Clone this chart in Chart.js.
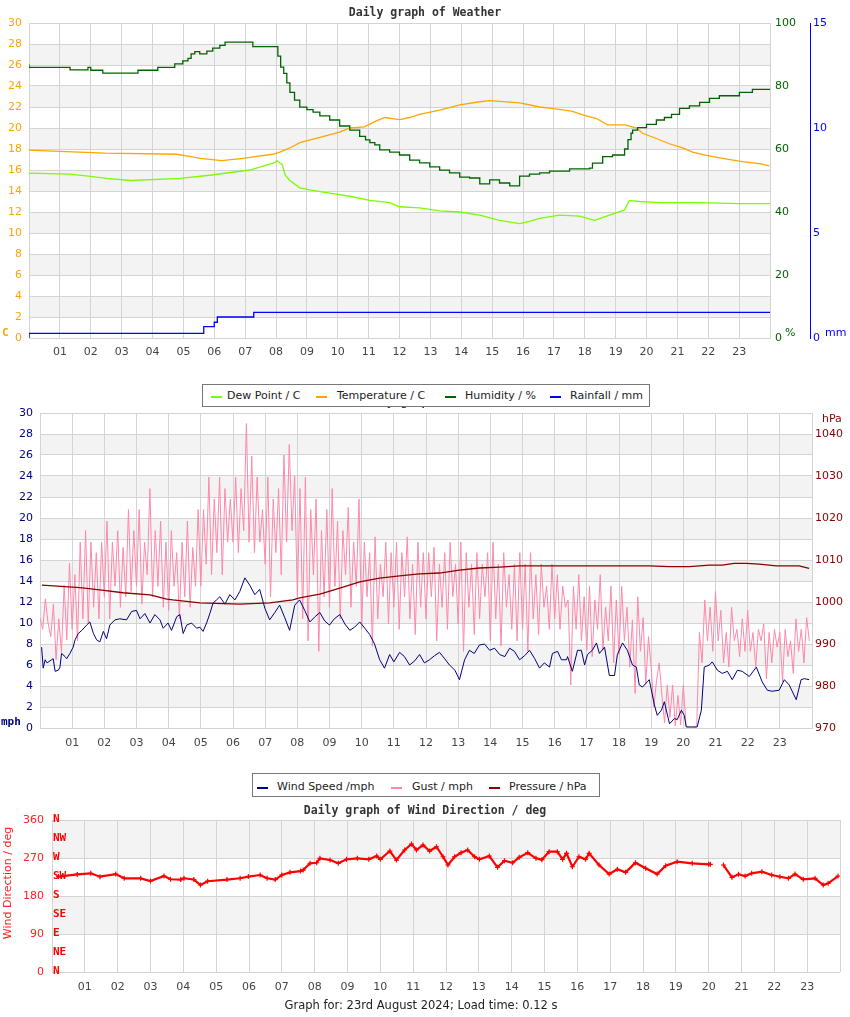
<!DOCTYPE html>
<html>
<head>
<meta charset="utf-8">
<script src="https://cdn.jsdelivr.net/npm/chart.js@4.4.1/dist/chart.umd.min.js"></script>
<style>
  body { margin: 0; background: #fff; width: 850px; height: 1017px; position: relative; overflow: hidden; font-family: "DejaVu Sans", sans-serif; }
  canvas { position: absolute; left: 0; }
  .t { position: absolute; white-space: nowrap; line-height: 12px; font-size: 11px; }
  .title { position: absolute; left: 0; width: 850px; text-align: center; font: bold 11.5px "DejaVu Sans Mono", monospace; color: #333; line-height: 12px; }
  .box { position: absolute; border: 1px solid #777; background: #fff; box-sizing: border-box; }
  .mk { position: absolute; height: 2px; width: 11px; }
  .unit { position: absolute; font: bold 11px "DejaVu Sans Mono", monospace; line-height: 12px; }
</style>
</head>
<body>
<canvas id="weatherChart" width="850" height="372" style="top:0"></canvas>
<canvas id="windChart" width="850" height="364" style="top:396px"></canvas>
<canvas id="dirChart" width="850" height="200" style="top:800px"></canvas>

<div class="title" style="top:6px">Daily graph of Weather</div>
<div class="unit" style="left:2px;top:327px;color:#FFA500">C</div>
<div class="t" style="left:785px;top:327px;color:#006400">%</div>
<div class="t" style="left:825px;top:327px;color:#0000FF">mm</div>

<div class="title" style="top:395px">Daily graph of Wind</div>
<div class="box" style="left:202px;top:384px;width:448px;height:23px"></div>
<div class="mk" style="left:211px;top:396px;background:#7CFC00"></div>
<div class="t" style="left:227px;top:390px;color:#222">Dew Point / C</div>
<div class="mk" style="left:316px;top:396px;background:#FFA500"></div>
<div class="t" style="left:337px;top:390px;color:#222">Temperature / C</div>
<div class="mk" style="left:445px;top:396px;background:#006400"></div>
<div class="t" style="left:465px;top:390px;color:#222">Humidity / %</div>
<div class="mk" style="left:550px;top:396px;background:#0000FF"></div>
<div class="t" style="left:570px;top:390px;color:#222">Rainfall / mm</div>

<div class="unit" style="left:1px;top:716px;color:#000080">mph</div>
<div class="t" style="left:822px;top:413px;color:#8B0000">hPa</div>

<div class="box" style="left:252px;top:773px;width:348px;height:24px"></div>
<div class="mk" style="left:257px;top:787px;background:#000080"></div>
<div class="t" style="left:277px;top:781px;color:#222">Wind Speed /mph</div>
<div class="mk" style="left:391px;top:787px;background:#ff88aa"></div>
<div class="t" style="left:412px;top:781px;color:#222">Gust / mph</div>
<div class="mk" style="left:489px;top:787px;background:#8B0000"></div>
<div class="t" style="left:509px;top:781px;color:#222">Pressure / hPa</div>

<div class="title" style="top:804px">Daily graph of Wind Direction / deg</div>
<div class="t" style="left:-52px;top:877px;width:120px;text-align:center;color:#ff2020;transform:rotate(-90deg)">Wind Direction / deg</div>
<div class="t" style="left:0;width:842px;text-align:center;top:999px;color:#222;font-size:11.5px">Graph for: 23rd August 2024; Load time: 0.12 s</div>

<script>
// x axis labels (hours)
const hourLabels = ['01','02','03','04','05','06','07','08','09','10','11','12',
                    '13','14','15','16','17','18','19','20','21','22','23'];

// ---- Weather: dew point / temperature (C), humidity (%), rainfall (mm)
const dewTimes = [0, 1.33, 2.0, 2.5, 3.3, 4.9, 5.85, 7.15, 7.96, 8.03, 8.2, 8.3, 8.45, 8.77, 9.09, 9.74, 10.39,
    11.04, 11.68, 12.0, 12.65, 13.3, 13.95, 14.6, 15.24, 15.89, 16.21, 16.54, 17.18, 17.83, 18.32, 18.8,
    19.29, 19.45, 19.77, 20.42, 21.7, 23.01, 24];
const dewValues = [15.7, 15.6, 15.4, 15.2, 15.0, 15.2, 15.5, 16.0, 16.7, 16.9, 16.5, 15.5, 15.0, 14.3, 14.1, 13.8, 13.5,
    13.1, 12.9, 12.5, 12.4, 12.1, 12.0, 11.7, 11.2, 10.9, 11.1, 11.4, 11.7, 11.6, 11.2, 11.7,
    12.2, 13.1, 13.0, 12.9, 12.9, 12.8, 12.8];

const tempTimes = [0, 0.78, 2.46, 4.78, 5.2, 5.54, 6.24, 6.93, 7.38, 7.9, 8.12, 8.45, 8.77, 9.42, 10.06, 10.39,
    10.87, 11.2, 11.52, 12.0, 12.33, 12.65, 13.3, 13.95, 14.6, 14.92, 15.89, 16.54, 16.86, 17.57, 17.99,
    18.38, 18.74, 19.3, 19.68, 19.87, 20.32, 20.74, 21.17, 21.49, 21.94, 22.46, 23.1, 23.66, 23.98];
const tempValues = [17.9, 17.8, 17.6, 17.5, 17.3, 17.1, 16.9, 17.1, 17.3, 17.5, 17.7, 18.1, 18.6, 19.1, 19.6, 20.0,
    20.1, 20.6, 21.0, 20.8, 21.0, 21.3, 21.7, 22.2, 22.5, 22.6, 22.4, 22.0, 21.9, 21.6, 21.2,
    20.9, 20.3, 20.3, 20.0, 19.5, 19.0, 18.5, 18.1, 17.7, 17.4, 17.1, 16.8, 16.6, 16.4];

const humTimes = [0, 1.33, 1.91, 2.0, 2.39, 3.53, 4.17, 4.72, 4.98, 5.15, 5.25, 5.37, 5.53, 5.76, 5.95, 6.18, 6.35,
    7.25, 8.06, 8.15, 8.25, 8.35, 8.45, 8.6, 8.77, 9.0, 9.2, 9.42, 9.74, 10.06, 10.39, 10.71, 10.9, 11.04,
    11.2, 11.36, 11.68, 12.0, 12.33, 12.65, 12.98, 13.3, 13.62, 13.95, 14.27, 14.6, 14.92, 15.24, 15.57,
    15.89, 16.21, 16.54, 16.86, 17.51, 18.16, 18.25, 18.58, 18.9, 19.29, 19.4, 19.5, 19.55, 19.71, 20.0,
    20.32, 20.58, 20.81, 21.07, 21.39, 21.72, 22.04, 22.36, 23.01, 23.43, 23.82, 24.0];
const humValues = [86.9, 85.9, 85.1, 85.9, 85.0, 84.1, 85.0, 85.9, 87.0, 88.0, 88.8, 90.2, 90.9, 90.2, 91.1, 92.0, 92.9,
    93.9, 92.5, 89.5, 86, 84, 81, 78, 75.5, 73.3, 72.5, 71.7, 70.5, 69.2, 67.3, 66, 64, 62.9,
    62, 61.3, 59.7, 59, 58.1, 56.5, 55.6, 54.3, 53.3, 52.4, 51.1, 50.8, 48.9, 50.2, 49.2,
    48.3, 51.4, 52, 52.4, 53, 53.7, 53.9, 55.5, 57.6, 58.1, 60, 63, 65, 66, 66.8,
    67.8, 69.2, 70, 71, 72.9, 73.7, 74.8, 76.1, 76.9, 78, 78.9, 78.9];

const rainTimes = [0, 5.66, 6.0, 6.1, 7.28, 7.41, 24];
const rainValues = [0, 0.22, 0.54, 0.75, 1.0, 1.22, 1.22];

// ---- Wind: speed (mph), gust (mph, every 5 minutes), pressure (hPa)
const windTimes = [
    0.05, 0.10, 0.16, 0.22, 0.36, 0.41, 0.47, 0.57, 0.62, 0.67, 0.78, 0.83, 0.93,
    1.03, 1.09, 1.19, 1.30, 1.45, 1.55, 1.66, 1.76, 1.86, 1.97,
    2.07, 2.17, 2.33, 2.48, 2.69, 2.85,
    3.00, 3.11, 3.26, 3.42, 3.57, 3.73, 3.83, 3.98,
    4.09, 4.25, 4.35, 4.45, 4.56, 4.71, 4.87, 4.97,
    5.07, 5.18, 5.28, 5.38, 5.49, 5.59, 5.75, 5.90,
    6.06, 6.21, 6.37, 6.52, 6.68, 6.83, 6.99,
    7.14, 7.30, 7.45, 7.61, 7.76, 7.92,
    8.07, 8.23, 8.39, 8.55, 8.70, 8.85,
    9.00, 9.15, 9.32, 9.48, 9.63, 9.78, 9.94,
    10.10, 10.25, 10.40, 10.56, 10.71, 10.87,
    11.00, 11.18, 11.33, 11.49, 11.65, 11.80, 11.95,
    12.11, 12.27, 12.42, 12.58, 12.73, 12.90,
    13.04, 13.20, 13.35, 13.50, 13.66, 13.82, 13.98,
    14.13, 14.29, 14.45, 14.60, 14.75, 14.91,
    15.07, 15.22, 15.38, 15.53, 15.68, 15.84, 15.93,
    16.09, 16.21, 16.37, 16.40, 16.55, 16.71, 16.83, 16.93,
    17.02, 17.17, 17.30, 17.39, 17.55, 17.70, 17.86, 17.95,
    18.11, 18.26, 18.42, 18.54, 18.63, 18.73, 18.88, 18.94,
    19.10, 19.19, 19.32, 19.41, 19.57, 19.72, 19.81, 19.94,
    20.03, 20.09, 20.43, 20.56, 20.65, 20.81, 20.90,
    21.06, 21.21, 21.37, 21.52, 21.68, 21.83,
    22.05, 22.27, 22.45, 22.61, 22.76, 22.98,
    23.14, 23.29, 23.51, 23.66, 23.76, 23.91];
const windValues = [
    7.7, 5.7, 6.5, 6.2, 6.5, 6.6, 5.4, 5.5, 5.8, 7.1, 6.8, 6.6, 7.1,
    7.7, 8.4, 9.0, 9.3, 9.8, 10.1, 9.0, 8.4, 8.2, 9.2,
    8.5, 9.8, 10.3, 10.4, 10.3, 11.1,
    11.2, 10.4, 10.9, 10.0, 10.8, 10.3, 9.5, 10.0,
    9.3, 10.6, 10.8, 9.0, 9.8, 10.0, 9.5, 9.6,
    9.2, 10.0, 10.9, 11.9, 12.2, 12.5, 11.8, 12.7,
    12.2, 13.0, 14.3, 13.6, 12.7, 13.2, 11.4,
    10.3, 11.0, 11.7, 10.5, 9.3, 11.7,
    12.2, 11.2, 10.1, 10.6, 11.0, 10.2,
    9.8, 10.4, 10.8, 9.9, 9.3, 9.6, 10.1,
    9.5, 8.9, 8.0, 6.5, 5.7, 7.0,
    6.3, 7.2, 6.8, 6.0, 6.4, 7.0, 6.2,
    6.5, 6.9, 7.2, 6.6, 6.0, 5.5,
    4.6, 6.5, 7.4, 7.1, 7.9, 8.0, 7.4,
    7.6, 7.0, 6.8, 7.6, 7.3, 6.5,
    6.9, 7.4, 6.6, 5.7, 6.2, 5.8, 7.1,
    7.3, 6.5, 6.5, 6.8, 5.4, 7.4, 7.4, 6.0,
    7.0, 7.4, 8.1, 7.1, 7.7, 5.0, 5.0, 7.0,
    8.1, 7.4, 6.0, 5.8, 4.1, 3.9, 4.4, 4.6,
    2.2, 1.2, 1.7, 2.5, 0.4, 0.9, 0.8, 1.7,
    1.2, 0.1, 0.1, 1.7, 5.8, 6.0, 6.3,
    5.5, 5.2, 5.4, 4.6, 5.5, 5.4,
    4.9, 5.8, 4.4, 3.6, 3.5, 3.6,
    4.6, 4.1, 2.7, 4.6, 4.7, 4.6];

// one row per hour, twelve 5-minute readings
const gustValues = [
    10.5, 9.4, 12.3, 10.0, 8.7, 11.8, 6.5, 10.4, 7.2, 13.6, 8.4, 15.7,
    9.4, 14.6, 8.3, 17.7, 10.4, 18.8, 9.9, 17.7, 11.5, 16.7, 10.4, 17.7,
    12.5, 19.7, 10.4, 17.7, 13.5, 18.8, 11.5, 17.2, 12.5, 20.8, 13.0, 18.8,
    13.5, 20.8, 11.8, 17.7, 14.6, 22.8, 12.5, 18.8, 13.5, 19.7, 11.5, 17.7,
    11.2, 18.8, 13.5, 16.7, 10.4, 17.7, 12.5, 19.7, 11.5, 17.2, 13.5, 20.8,
    13.5, 20.8, 15.6, 23.9, 14.6, 21.8, 16.7, 23.9, 14.6, 22.8, 17.7, 21.8,
    17.7, 23.9, 16.7, 22.8, 18.8, 29.0, 17.7, 25.9, 16.7, 23.9, 17.7, 20.8,
    15.6, 23.9, 12.5, 21.8, 16.7, 22.8, 14.6, 26.0, 17.7, 27.0, 18.8, 24.0,
    12.5, 22.8, 10.4, 23.9, 8.3, 20.8, 14.6, 21.8, 7.3, 18.8, 12.5, 20.8,
    11.5, 22.8, 13.5, 19.7, 10.4, 18.8, 14.6, 21.0, 11.5, 17.7, 13.5, 21.8,
    9.4, 17.7, 12.5, 16.7, 7.8, 18.2, 10.4, 15.6, 12.5, 17.7, 9.9, 16.7,
    11.5, 17.7, 9.4, 16.7, 12.5, 18.2, 10.4, 15.6, 8.9, 17.7, 11.5, 16.7,
    10.4, 16.7, 12.5, 17.2, 8.3, 15.6, 11.5, 16.7, 9.4, 17.7, 12.5, 15.6,
    9.9, 17.7, 7.3, 16.7, 11.5, 15.6, 8.9, 16.7, 10.4, 15.6, 12.5, 16.7,
    8.3, 17.7, 10.4, 15.6, 7.8, 16.7, 11.5, 14.6, 9.4, 15.6, 8.3, 16.7,
    9.4, 15.6, 7.3, 16.7, 10.4, 14.6, 8.9, 15.6, 11.5, 13.5, 9.4, 15.6,
    10.4, 14.6, 9.4, 13.5, 11.5, 12.2, 4.1, 13.5, 9.4, 14.6, 8.3, 12.5,
    7.4, 13.5, 6.8, 12.2, 9.4, 14.6, 7.4, 11.5, 8.3, 13.5, 6.2, 12.2,
    7.0, 13.5, 8.3, 11.5, 5.8, 10.3, 3.3, 12.5, 7.3, 10.5, 4.2, 8.7,
    5.8, 2.0, 4.5, 6.2, 3.1, 0.5, 4.1, 1.0, 4.1, 0.2, 3.1, 0.3,
    4.1, 0.2, 0, 0, 0, 0.2, 9.1, 6.2, 12.2, 8.3, 11.5, 7.3,
    13.0, 8.3, 11.2, 6.2, 9.1, 5.8, 11.5, 8.3, 9.4, 6.8, 10.4, 7.3,
    11.2, 7.3, 9.1, 5.8, 9.4, 8.3, 9.9, 4.7, 9.1, 6.2, 9.4, 7.7,
    9.1, 4.4, 9.4, 6.8, 8.3, 5.2, 10.4, 7.3, 9.4, 6.2, 10.5, 8.3];

const pressTimes = [0.06, 1.24, 1.86, 2.58, 3.42, 3.94, 4.13, 4.97, 6.21, 7.14, 7.86, 8.07, 8.7, 9.32, 9.94,
    10.56, 11.18, 11.8, 12.42, 13.04, 13.66, 14.29, 14.91, 16.15, 17.39, 18.94, 19.57, 20.19, 20.81,
    21.21, 21.58, 21.96, 22.36, 22.89, 23.6, 23.91];
const pressValues = [1004.0, 1003.4, 1002.9, 1002.2, 1001.7, 1000.7, 1000.5, 999.8, 999.5, 999.8, 1000.5, 1001.0,
    1001.9, 1003.3, 1004.8, 1005.7, 1006.2, 1006.7, 1006.9, 1007.6, 1008.1, 1008.3, 1008.6, 1008.6,
    1008.6, 1008.6, 1008.4, 1008.4, 1008.8, 1008.8, 1009.2, 1009.2, 1009.0, 1008.6, 1008.6, 1008.0];

// ---- Wind direction (deg), null = no reading
const dirTimes = [0.2, 0.77, 1.18, 1.46, 1.94, 2.2, 2.7, 3.0, 3.41, 3.61, 3.92, 4.02, 4.32, 4.52, 4.74, 5.33,
    5.73, 5.98, 6.34, 6.55, 6.8, 7.0, 7.25, 7.57, 7.65, 7.86, 8.06, 8.16, 8.47, 8.72, 8.97, 9.3, 9.65,
    9.89, 10.0, 10.29, 10.49, 10.74, 10.95, 11.1, 11.3, 11.5, 11.71, 11.91, 12.06, 12.26, 12.46, 12.66,
    12.87, 13.02, 13.32, 13.57, 13.78, 14.03, 14.23, 14.49, 14.74, 14.92, 15.14, 15.39, 15.55, 15.67,
    15.85, 16.05, 16.25, 16.36, 16.66, 16.97, 17.22, 17.47, 17.77, 18.08, 18.43, 18.69, 19.04, 19.5,
    20.0, 20.05, 20.25, 20.45, 20.71, 20.91, 21.11, 21.31, 21.62, 21.92, 22.17, 22.43, 22.63, 22.88,
    23.24, 23.49, 23.64, 23.94];
const dirValues = [226, 231, 233.7, 225.7, 232, 221.8, 221.8, 215.5, 227.3, 219.7, 219, 222, 219, 206, 215, 219,
    222, 226, 229.7, 222, 219, 229.7, 236, 239, 241.5, 257.4, 258.8, 269.2, 265.2, 257.4, 266.8, 269.2, 266.8,
    274.7, 266.8, 286.5, 265.2, 288.9, 303.1, 288.9, 300.7, 286.5, 296.7, 273, 253.4, 273, 282.5, 288.9,
    273, 266.8, 274.7, 247.9, 263.6, 258.8, 271.6, 282.5, 269.2, 266, 284.9, 284.9, 266.8, 281,
    249.3, 273, 266.8, 281, 253.4, 232, 243.2, 236, 258.8, 245.6, 232, 251.7, 261.2, 257.4,
    255, 255, null, 253.4, 224.3, 231.4, 227.3, 233.7, 237.5, 229.7, 225.7, 221.8, 232, 219.5,
    221.8, 206, 210, 227.3];
const compassLabels = ['N', 'NE', 'E', 'SE', 'S', 'SW', 'W', 'NW', 'N'];

const GRID = '#d4d4d4';

Chart.defaults.font.family = '"DejaVu Sans", sans-serif';
Chart.defaults.font.size = 11;
Chart.defaults.animation = false;
Chart.defaults.responsive = false;
Chart.defaults.plugins.legend.display = false;
Chart.defaults.plugins.tooltip.enabled = false;
Chart.defaults.elements.point.radius = 0;

function pts(times, values) {
    return times.map((t, i) => ({ x: t, y: values[i] }));
}

// grey bands behind the grid
const bands = {
    id: 'bands',
    beforeDraw(chart, args, opts) {
        const { ctx, chartArea: a } = chart;
        const s = chart.scales[opts.axis];
        ctx.save();
        ctx.fillStyle = '#f3f3f3';
        for (let v = opts.start; v < s.max; v += opts.period) {
            const top = s.getPixelForValue(Math.min(v + opts.width, s.max));
            const bot = s.getPixelForValue(v);
            ctx.fillRect(a.left, top, a.right - a.left, bot - top);
        }
        ctx.restore();
    }
};

function hourAxis(height, pad) {
    return {
        type: 'linear', min: 0, max: 24,
        grid: { color: GRID, drawTicks: false },
        border: { display: false },
        ticks: {
            stepSize: 1, autoSkip: false, maxRotation: 0, padding: pad, color: '#444',
            callback: v => hourLabels[v - 1] || ''
        },
        afterFit: s => { s.height = height; }
    };
}

// Top chart
new Chart(document.getElementById('weatherChart'), {
    type: 'line',
    data: {
        datasets: [
            { data: pts(humTimes, humValues), borderColor: '#006400', borderWidth: 1.3, stepped: 'after', yAxisID: 'y1' },
            { data: pts(dewTimes, dewValues), borderColor: '#7CFC00', borderWidth: 1.3, yAxisID: 'y' },
            { data: pts(tempTimes, tempValues), borderColor: '#FFA500', borderWidth: 1.3, yAxisID: 'y' },
            { data: pts(rainTimes, rainValues), borderColor: '#0000FF', borderWidth: 1.3, stepped: 'after', yAxisID: 'y2' }
        ]
    },
    options: {
        layout: { padding: { top: 23 } },
        scales: {
            x: hourAxis(34, 8),
            y: {
                position: 'left', min: 0, max: 30,
                ticks: { stepSize: 2, color: '#FFA500', padding: 7 },
                grid: { color: GRID, drawTicks: false },
                border: { color: GRID },
                afterFit: s => { s.width = 29; }
            },
            y1: {
                position: 'right', min: 0, max: 100, weight: 0,
                ticks: { stepSize: 20, color: '#006400', padding: 5 },
                grid: { drawOnChartArea: false, drawTicks: false },
                border: { color: GRID },
                afterFit: s => { s.width = 40; }
            },
            y2: {
                position: 'right', min: 0, max: 15, weight: 1,
                ticks: { stepSize: 5, color: '#0000FF', padding: 3 },
                grid: { drawOnChartArea: false, drawTicks: false },
                border: { color: '#0000FF' },
                afterFit: s => { s.width = 40; }
            }
        },
        plugins: { bands: { axis: 'y', start: 2, period: 4, width: 2 } }
    },
    plugins: [bands]
});

// Middle chart
new Chart(document.getElementById('windChart'), {
    type: 'line',
    data: {
        datasets: [
            { data: gustValues.map((v, i) => ({ x: i / 12, y: v })), borderColor: '#ff88aa', borderWidth: 1, order: 3 },
            { data: pts(windTimes, windValues), borderColor: '#000080', borderWidth: 1, order: 2 },
            { data: pts(pressTimes, pressValues), borderColor: '#8B0000', borderWidth: 1.3, yAxisID: 'y1', order: 1 }
        ]
    },
    options: {
        layout: { padding: { top: 17 } },
        scales: {
            x: hourAxis(32, 9),
            y: {
                position: 'left', min: 0, max: 30,
                ticks: { stepSize: 2, color: '#000080', padding: 7 },
                grid: { color: GRID, drawTicks: false },
                border: { color: GRID },
                afterFit: s => { s.width = 40; }
            },
            y1: {
                position: 'right', min: 970, max: 1045,
                ticks: { stepSize: 10, color: '#8B0000', padding: 3, includeBounds: false,
                         callback: v => (v % 10 === 0 ? v : '') },
                grid: { drawOnChartArea: false, drawTicks: false },
                border: { color: GRID },
                afterFit: s => { s.width = 38; }
            }
        },
        plugins: { bands: { axis: 'y', start: 2, period: 4, width: 2 } }
    },
    plugins: [bands]
});

// compass letters inside the left edge of the direction plot
const compass = {
    id: 'compass',
    afterDraw(chart) {
        const { ctx, chartArea: a } = chart;
        const s = chart.scales.y;
        ctx.save();
        ctx.font = 'bold 11px "DejaVu Sans Mono", monospace';
        ctx.fillStyle = '#ff0000';
        ctx.textAlign = 'left';
        ctx.textBaseline = 'middle';
        compassLabels.forEach((lab, i) => {
            ctx.fillText(lab, a.left + 1, s.getPixelForValue(i * 45) - 1);
        });
        ctx.restore();
    }
};

// Bottom chart
new Chart(document.getElementById('dirChart'), {
    type: 'line',
    data: {
        datasets: [{
            data: pts(dirTimes, dirValues), borderColor: '#ff0000', borderWidth: 2.2,
            pointRadius: 2.5, pointStyle: 'cross', pointBorderColor: '#ff0000', pointBorderWidth: 1.2,
            spanGaps: false
        }]
    },
    options: {
        layout: { padding: { top: 20, right: 10 } },
        scales: {
            x: hourAxis(28, 9),
            y: {
                position: 'left', min: 0, max: 360,
                ticks: { stepSize: 90, color: '#ff2020', padding: 8 },
                grid: { color: GRID, drawTicks: false },
                border: { color: GRID },
                afterFit: s => { s.width = 52; }
            }
        },
        plugins: { bands: { axis: 'y', start: 90, period: 180, width: 90 } }
    },
    plugins: [bands, compass]
});
</script>
</body>
</html>
